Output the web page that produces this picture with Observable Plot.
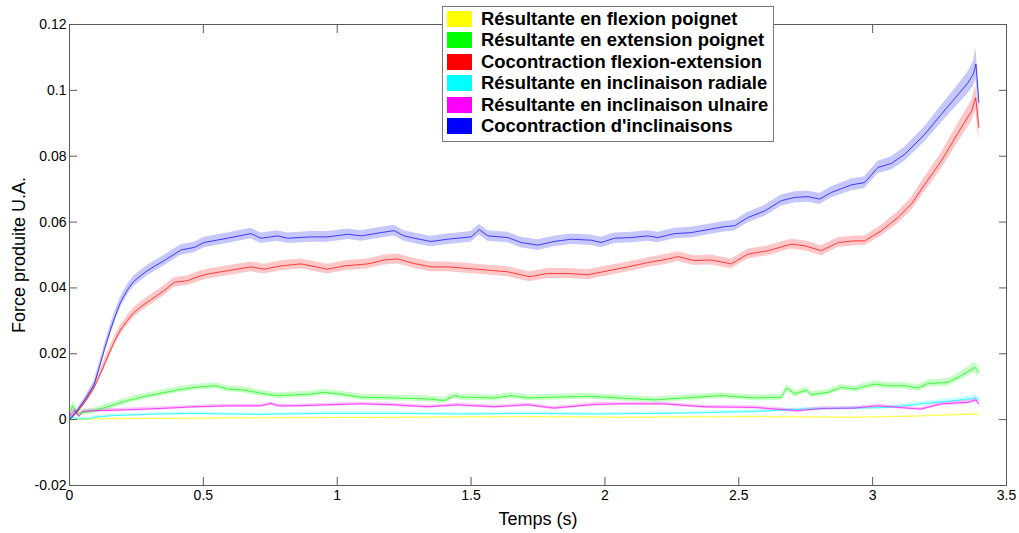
<!DOCTYPE html>
<html><head><meta charset="utf-8">
<script src="https://cdn.jsdelivr.net/npm/d3@7"></script>
<script src="https://cdn.jsdelivr.net/npm/@observablehq/plot@0.6"></script>
<style>
html,body{margin:0;padding:0;background:#fff;}
#wrap{position:relative;width:1019px;height:533px;}
#legend{position:absolute;left:442px;top:6px;width:332px;height:136px;border:1px solid #777;background:#fff;box-sizing:border-box;font-family:"Liberation Sans",Arial,sans-serif;font-weight:bold;font-size:18.4px;padding-top:1px;color:#000}
.row{height:21.5px;display:flex;align-items:center;white-space:nowrap}
.sw{width:25px;height:16px;margin-left:4px;margin-right:9px;flex:none}
</style></head>
<body>
<div id="wrap"><div id="chart"></div><div id="legend"></div></div>
<script>
// [temps (s), moyenne, écart] for each series
const flexionPoignet = [[0,0,0.0002],[0.092,0.0002,0.0002],[0.59,0.0005,0.0002],[1.213,0.0007,0.0002],[1.712,0.0009,0.0002],[2.06,0.0007,0.0002],[2.56,0.0009,0.0002],[2.93,0.0007,0.0002],[3.18,0.0011,0.0002],[3.386,0.0017,0.0003],[3.397,0.0017,0.0003]];
const extensionPoignet = [[0,0.001,0.0006],[0.011,0.0042,0.0015],[0.03,0.0019,0.001],[0.092,0.0027,0.0008],[0.154,0.0042,0.0009],[0.217,0.0058,0.0009],[0.279,0.007,0.0009],[0.341,0.008,0.0009],[0.404,0.009,0.0009],[0.466,0.0098,0.0009],[0.503,0.01,0.0009],[0.547,0.0103,0.0009],[0.59,0.0093,0.0009],[0.653,0.009,0.0009],[0.715,0.008,0.0009],[0.778,0.0073,0.0009],[0.84,0.0075,0.0009],[0.902,0.0078,0.0009],[0.952,0.0083,0.0009],[1.027,0.0076,0.0009],[1.089,0.0068,0.0009],[1.213,0.0066,0.0009],[1.338,0.0063,0.0009],[1.4,0.0058,0.0009],[1.438,0.0073,0.0009],[1.463,0.0068,0.0009],[1.488,0.0068,0.0009],[1.587,0.0066,0.0009],[1.65,0.0073,0.0009],[1.712,0.0066,0.0009],[1.936,0.0071,0.0009],[2.185,0.006,0.0009],[2.435,0.0073,0.0009],[2.559,0.0066,0.0009],[2.659,0.0068,0.0009],[2.68,0.0096,0.001],[2.709,0.0078,0.0009],[2.752,0.009,0.0009],[2.771,0.0076,0.0009],[2.834,0.0083,0.0009],[2.883,0.0098,0.0009],[2.933,0.0093,0.0009],[3.008,0.0108,0.001],[3.058,0.0103,0.001],[3.12,0.0103,0.001],[3.17,0.0096,0.001],[3.207,0.011,0.0011],[3.282,0.0113,0.0011],[3.332,0.0134,0.0013],[3.382,0.0159,0.0016],[3.397,0.0144,0.0016]];
const cocontractionFlexionExtension = [[0,0,0.0003],[0.03,0.0024,0.0005],[0.06,0.0056,0.0008],[0.092,0.0097,0.001],[0.11,0.013,0.0012],[0.13,0.0167,0.0014],[0.15,0.0205,0.0015],[0.167,0.0236,0.0015],[0.19,0.0272,0.0015],[0.217,0.0302,0.0015],[0.24,0.0325,0.0015],[0.267,0.0343,0.0015],[0.29,0.0356,0.0015],[0.316,0.0371,0.0015],[0.354,0.0392,0.0015],[0.391,0.0417,0.0015],[0.441,0.0422,0.0015],[0.491,0.0437,0.0015],[0.528,0.0444,0.0015],[0.59,0.0452,0.0015],[0.678,0.0464,0.0015],[0.727,0.0457,0.0015],[0.79,0.0467,0.0015],[0.865,0.0473,0.0015],[0.964,0.0457,0.0015],[1.027,0.0467,0.0015],[1.114,0.0473,0.0015],[1.176,0.0485,0.0015],[1.226,0.0488,0.0015],[1.288,0.0474,0.0015],[1.35,0.0464,0.0015],[1.413,0.0464,0.0015],[1.488,0.0459,0.0015],[1.563,0.0454,0.0015],[1.637,0.0449,0.0015],[1.718,0.0434,0.0015],[1.787,0.0444,0.0015],[1.862,0.0444,0.0015],[1.937,0.044,0.0015],[2.011,0.0452,0.0015],[2.086,0.0464,0.0015],[2.161,0.0477,0.0015],[2.236,0.0488,0.0015],[2.273,0.0495,0.0015],[2.335,0.0483,0.0015],[2.397,0.0485,0.0015],[2.472,0.0473,0.0015],[2.535,0.0503,0.0015],[2.61,0.0513,0.0015],[2.696,0.0533,0.0015],[2.746,0.0528,0.0015],[2.809,0.0513,0.0015],[2.871,0.0538,0.0015],[2.933,0.0543,0.0015],[2.97,0.0543,0.0015],[3.033,0.0574,0.0016],[3.095,0.0614,0.0018],[3.145,0.0655,0.002],[3.195,0.0715,0.0022],[3.257,0.0786,0.0025],[3.32,0.0872,0.0029],[3.37,0.0938,0.0032],[3.385,0.0978,0.0037],[3.397,0.0887,0.0042]];
const inclinaisonRadiale = [[0,0.001,0.0005],[0.03,0.0002,0.0004],[0.07,0.0002,0.0004],[0.092,0.0007,0.0004],[0.154,0.0012,0.0004],[0.217,0.0014,0.0004],[0.341,0.0017,0.0004],[0.466,0.0019,0.0004],[0.59,0.0017,0.0004],[0.715,0.0016,0.0004],[0.964,0.0019,0.0004],[1.213,0.0019,0.0004],[1.463,0.0017,0.0004],[1.712,0.0019,0.0004],[1.96,0.0017,0.0004],[2.31,0.002,0.0004],[2.56,0.0025,0.0005],[2.746,0.0032,0.0005],[2.93,0.0035,0.0005],[3.058,0.0037,0.0005],[3.18,0.0048,0.0006],[3.307,0.0058,0.0007],[3.386,0.0066,0.0008],[3.397,0.006,0.0008]];
const inclinaisonUlnaire = [[0,0.001,0.0006],[0.02,0.003,0.0006],[0.035,0.001,0.0005],[0.05,0.0025,0.0005],[0.092,0.0027,0.0005],[0.217,0.003,0.0005],[0.341,0.0034,0.0005],[0.466,0.0039,0.0005],[0.59,0.0042,0.0005],[0.715,0.0042,0.0005],[0.753,0.0049,0.0005],[0.78,0.0042,0.0005],[0.84,0.0042,0.0005],[0.964,0.0045,0.0005],[1.089,0.0048,0.0005],[1.213,0.0045,0.0005],[1.338,0.0039,0.0005],[1.45,0.0045,0.0005],[1.587,0.0039,0.0005],[1.712,0.0045,0.0005],[1.81,0.0035,0.0005],[1.96,0.0046,0.0005],[2.06,0.0048,0.0005],[2.22,0.0048,0.0005],[2.37,0.0039,0.0005],[2.56,0.0037,0.0005],[2.72,0.0027,0.0005],[2.81,0.0034,0.0005],[2.93,0.0035,0.0005],[3.02,0.0042,0.0005],[3.18,0.0032,0.0005],[3.257,0.0048,0.0006],[3.357,0.0053,0.0007],[3.386,0.006,0.0008],[3.397,0.0048,0.0008]];
const cocontractionInclinaisons = [[0,0,0.0004],[0.03,0.0028,0.0006],[0.06,0.0063,0.0009],[0.092,0.0106,0.0011],[0.11,0.0155,0.0013],[0.13,0.0212,0.0015],[0.15,0.0265,0.0016],[0.17,0.0313,0.0016],[0.19,0.0355,0.0016],[0.217,0.0395,0.0016],[0.24,0.042,0.0016],[0.267,0.0438,0.0016],[0.29,0.0452,0.0016],[0.316,0.0465,0.0016],[0.354,0.0483,0.0016],[0.416,0.0515,0.0016],[0.466,0.0523,0.0016],[0.503,0.0538,0.0016],[0.59,0.0551,0.0016],[0.678,0.0565,0.0016],[0.715,0.0551,0.0016],[0.778,0.0558,0.0016],[0.815,0.0551,0.0016],[0.902,0.0555,0.0016],[0.964,0.0555,0.0016],[1.04,0.0563,0.0016],[1.09,0.0558,0.0016],[1.164,0.0568,0.0016],[1.213,0.0574,0.0016],[1.25,0.0558,0.0016],[1.288,0.0551,0.0016],[1.35,0.0541,0.0016],[1.413,0.0548,0.0016],[1.5,0.0555,0.0016],[1.531,0.0577,0.0016],[1.563,0.0558,0.0016],[1.637,0.0553,0.0016],[1.687,0.0538,0.0016],[1.75,0.053,0.0016],[1.81,0.0541,0.0016],[1.874,0.0548,0.0016],[1.949,0.0545,0.0016],[1.986,0.0538,0.0016],[2.036,0.0551,0.0016],[2.1,0.0553,0.0016],[2.16,0.0558,0.0016],[2.198,0.0553,0.0016],[2.26,0.0565,0.0016],[2.323,0.0568,0.0016],[2.397,0.0579,0.0016],[2.447,0.0586,0.0016],[2.484,0.0589,0.0016],[2.535,0.0614,0.0016],[2.597,0.0634,0.0017],[2.659,0.0665,0.0017],[2.709,0.0675,0.0017],[2.759,0.0677,0.0017],[2.802,0.067,0.0017],[2.846,0.069,0.0017],[2.921,0.0713,0.0018],[2.97,0.072,0.0018],[3.02,0.0766,0.0019],[3.07,0.0778,0.002],[3.12,0.0806,0.0021],[3.195,0.0867,0.0023],[3.257,0.0928,0.0026],[3.32,0.0988,0.003],[3.357,0.1024,0.0033],[3.376,0.1049,0.0038],[3.386,0.108,0.0047],[3.397,0.0963,0.0042]];

const seriesNames = ["Résultante en flexion poignet","Résultante en extension poignet","Cocontraction flexion-extension","Résultante en inclinaison radiale","Résultante en inclinaison ulnaire","Cocontraction d'inclinaisons"];
const seriesData = [flexionPoignet, extensionPoignet, cocontractionFlexionExtension, inclinaisonRadiale, inclinaisonUlnaire, cocontractionInclinaisons];
const seriesColors = ["#ffff00","#00ff00","#ff0000","#00ffff","#ff00ff","#0000ff"];
const xTicks = [0,0.5,1,1.5,2,2.5,3,3.5];
const yTicks = [-0.02,0,0.02,0.04,0.06,0.08,0.1,0.12];
const xLabel = "Temps (s)";
const yLabel = "Force produite U.A.";

const fmt = d => String(+d.toFixed(2));
const axisColor = "#5a5a5a";

const marks = [];
seriesData.forEach((data, i) => {
  const c = seriesColors[i];
  marks.push(Plot.areaY(data, {x: d => d[0], y1: d => d[1] - d[2], y2: d => d[1] + d[2], fill: c, fillOpacity: 0.22}));
});
seriesData.forEach((data, i) => {
  const c = seriesColors[i];
  marks.push(Plot.lineY(data, {x: d => d[0], y: d => d[1], stroke: c, strokeWidth: 1, strokeOpacity: 0.7}));
});
marks.push(
  Plot.frame({stroke: axisColor}),
  Plot.axisX({anchor: "bottom", ticks: xTicks, tickSize: -8, tickPadding: 13, tickFormat: fmt, stroke: axisColor, fill: "#000", label: xLabel, labelAnchor: "center", labelArrow: "none", labelOffset: 39, fontSize: 14}),
  Plot.axisX({anchor: "top", ticks: xTicks, tickSize: -8, tickFormat: () => "", stroke: axisColor, label: null}),
  Plot.axisY({anchor: "left", ticks: yTicks, tickSize: -8, tickPadding: 11, tickFormat: fmt, stroke: axisColor, fill: "#000", label: yLabel, labelAnchor: "center", labelArrow: "none", labelOffset: 57, fontSize: 14}),
  Plot.axisY({anchor: "right", ticks: yTicks, tickSize: -8, tickFormat: () => "", stroke: axisColor, label: null})
);

const chart = Plot.plot({
  width: 1019, height: 533,
  marginLeft: 69, marginRight: 13, marginTop: 24, marginBottom: 48,
  x: {domain: [0, 3.5]},
  y: {domain: [-0.02, 0.12]},
  style: {fontFamily: "'Liberation Sans', Arial, sans-serif", fontSize: "14px", background: "#fff", color: "#000"},
  marks
});
document.getElementById("chart").appendChild(chart);

// axis title sizes
chart.querySelectorAll("[aria-label='x-axis label'] text, [aria-label='y-axis label'] text").forEach(t => t.setAttribute("font-size", "18"));

const legend = document.getElementById("legend");
seriesNames.forEach((name, i) => {
  const row = document.createElement("div");
  row.className = "row";
  const sw = document.createElement("span");
  sw.className = "sw";
  sw.style.background = seriesColors[i];
  const tx = document.createElement("span");
  tx.textContent = name;
  row.appendChild(sw); row.appendChild(tx);
  legend.appendChild(row);
});
</script>
</body></html>
